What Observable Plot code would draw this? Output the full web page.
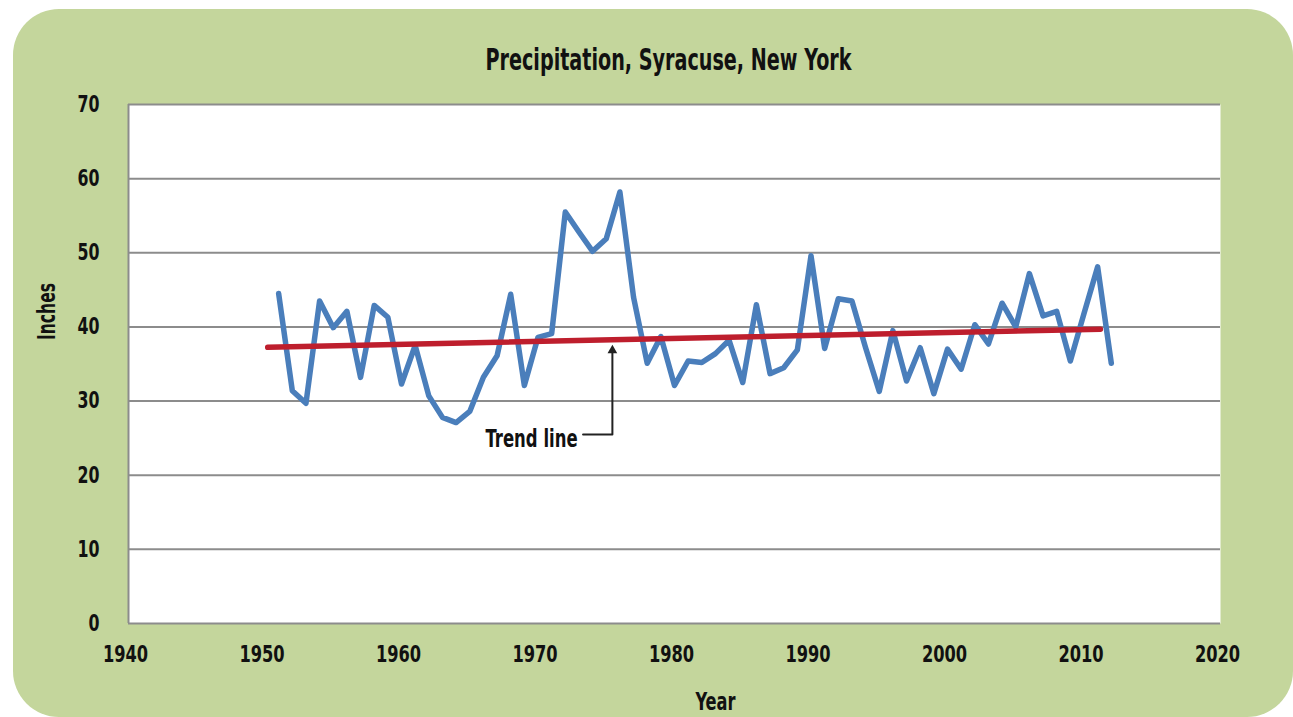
<!DOCTYPE html>
<html>
<head>
<meta charset="utf-8">
<script src="https://cdn.jsdelivr.net/npm/d3@7"></script>
<script src="https://cdn.jsdelivr.net/npm/@observablehq/plot@0.6"></script>
<style>
  html, body { margin: 0; padding: 0; background: #ffffff; }
  #wrap { position: relative; width: 1293px; height: 717px; overflow: hidden; }
  #bg { position: absolute; left: 13px; top: 9px; width: 1280px; height: 708px;
        background: #c4d69c; border-radius: 46px; }
  #chart { position: absolute; left: 0; top: 0; }
</style>
</head>
<body>
<div id="wrap"><div id="bg"></div><div id="chart"></div></div>
<script>
const years = [1951,1952,1953,1954,1955,1956,1957,1958,1959,1960,
  1961,1962,1963,1964,1965,1966,1967,1968,1969,1970,
  1971,1972,1973,1974,1975,1976,1977,1978,1979,1980,
  1981,1982,1983,1984,1985,1986,1987,1988,1989,1990,
  1991,1992,1993,1994,1995,1996,1997,1998,1999,2000,
  2001,2002,2003,2004,2005,2006,2007,2008,2009,2010,
  2011,2012];
const inches = [44.5,31.4,29.7,43.5,39.9,42.1,33.2,42.9,41.3,32.3,
  37.5,30.7,27.8,27.1,28.6,33.2,36.1,44.4,32.1,38.6,
  39.1,55.5,52.8,50.2,51.9,58.2,44.0,35.1,38.7,32.1,
  35.4,35.2,36.4,38.2,32.5,43.0,33.7,34.5,36.9,49.6,
  37.1,43.8,43.5,37.2,31.3,39.5,32.7,37.2,31.0,37.0,
  34.3,40.3,37.7,43.2,40.0,47.2,41.5,42.1,35.4,41.8,
  48.1,35.1];
const trendYears = [1950.2, 2011.2];
const trendInches = [37.25, 39.7];
const xTicks = [1940,1950,1960,1970,1980,1990,2000,2010,2020];
const yTicks = [0,10,20,30,40,50,60,70];
const noteText = ["Trend line"];
const noteTextYear = [1972.9];
const noteLineYears = [1973.3, 1975.45];
const noteLevel = [25.5, 36.7];

const series = years.map((y, i) => ({year: y, value: inches[i]}));
const trend = trendYears.map((y, i) => ({year: y, value: trendInches[i]}));

const font = "'Liberation Sans Narrow', 'DejaVu Sans Condensed', 'Arial Narrow', sans-serif";

const chart = Plot.plot({
  width: 1293,
  height: 717,
  marginLeft: 128,
  marginRight: 73,
  marginTop: 104,
  marginBottom: 94,
  style: {background: "transparent", fontFamily: font, fontWeight: "bold", color: "#111"},
  x: {domain: [1940, 2020], label: null},
  y: {domain: [0, 70], label: null},
  marks: [
    Plot.frame({fill: "white", stroke: null}),
    Plot.gridY(yTicks, {stroke: "#8c8c8c", strokeOpacity: 1, strokeWidth: 2}),
    Plot.ruleX([1940], {stroke: "#8c8c8c", strokeWidth: 2}),
    Plot.line(series, {x: "year", y: "value", stroke: "#4a7ebb", strokeWidth: 5.5, strokeLinejoin: "round", strokeLinecap: "round"}),
    Plot.line(trend, {x: "year", y: "value", stroke: "#be1e2d", strokeWidth: 5.5, strokeLinecap: "round"}),
    Plot.line([[noteLineYears[0], noteLevel[0]], [noteLineYears[1], noteLevel[0]], [noteLineYears[1], noteLevel[1]]], {stroke: "#222", strokeWidth: 2}),
    Plot.dot([[noteLineYears[1], noteLevel[1]]], {symbol: "triangle", r: 3.6, fill: "#222", stroke: null, dy: -1}),
    Plot.text(noteText, {x: noteTextYear, y: [noteLevel[0]], text: d => d, textAnchor: "end", fontSize: 24, fontWeight: "bold", fill: "#111", dy: 5, className: "t-note"}),
    Plot.axisX({ticks: xTicks, tickFormat: "d", tickSize: 0, tickPadding: 22, fontSize: 23, fontWeight: "bold", dx: -3}),
    Plot.axisY({ticks: yTicks, tickSize: 0, tickPadding: 29, fontSize: 23, fontWeight: "bold"}),
    Plot.text(["Precipitation, Syracuse, New York"], {frameAnchor: "top", text: d => d, dy: -44, dx: -6, fontSize: 30, fontWeight: "bold", fill: "#111", lineAnchor: "middle", className: "t-title"}),
    Plot.text(["Year"], {frameAnchor: "bottom", text: d => d, dy: 79, dx: 41, fontSize: 24, fontWeight: "bold", fill: "#111", lineAnchor: "middle", className: "t-xlabel"}),
    Plot.text(["Inches"], {frameAnchor: "left", text: d => d, dx: -81, dy: -24, rotate: -90, fontSize: 24, fontWeight: "bold", fill: "#111", lineAnchor: "middle", className: "t-ylabel"})
  ]
});
document.getElementById("chart").appendChild(chart);

// condense glyphs to mimic the narrow typeface of the original
function squeeze(selector, lengthFor) {
  chart.querySelectorAll(selector).forEach(t => {
    t.setAttribute("textLength", lengthFor(t.textContent));
    t.setAttribute("lengthAdjust", "spacingAndGlyphs");
  });
}
squeeze('.t-title text', () => 366);
squeeze('.t-note text', () => 92);
squeeze('.t-xlabel text', () => 40);
squeeze('.t-ylabel text', () => 57);
squeeze('g[aria-label="x-axis tick label"] text', s => s.length * 11.3);
squeeze('g[aria-label="y-axis tick label"] text', s => s.length * 11);
</script>
</body>
</html>
